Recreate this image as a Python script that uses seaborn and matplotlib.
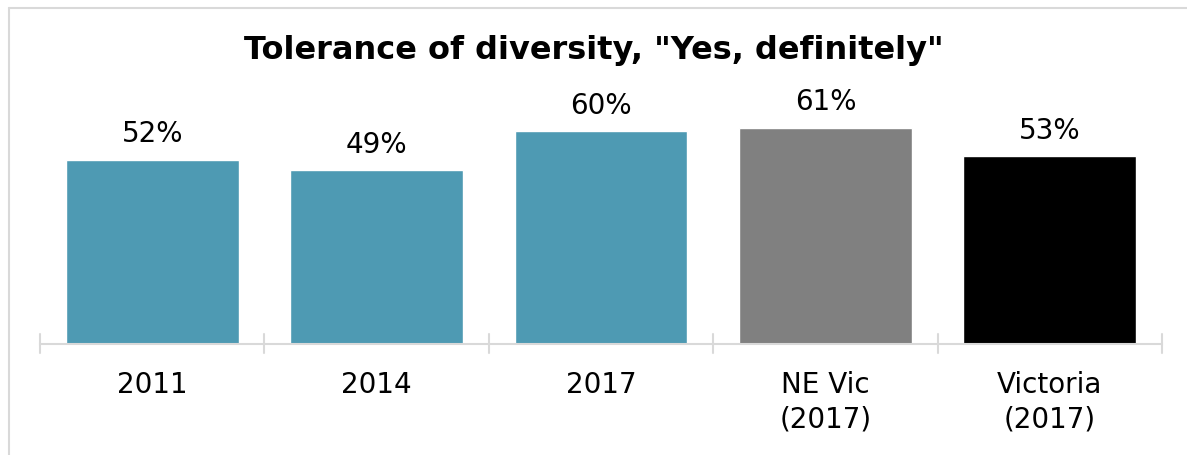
import matplotlib
matplotlib.use("Agg")
import matplotlib.pyplot as plt
import seaborn as sns
import pandas as pd
from matplotlib.lines import Line2D

categories = ["2011", "2014", "2017", "NE Vic\n(2017)", "Victoria\n(2017)"]
values = [52, 49, 60, 61, 53]
bar_colors = ["#4E9AB3", "#4E9AB3", "#4E9AB3", "#808080", "#000000"]

sns.set_theme(style="white")
plt.rcParams["font.family"] = ["DejaVu Sans"]

df = pd.DataFrame({"category": categories, "value": values})

fig = plt.figure(figsize=(11.87, 4.56), dpi=100)
ax = fig.add_axes([40 / 1187, (456 - 344.5) / 456, (1162 - 40) / 1187, (344.5 - 97) / 456])

sns.barplot(data=df, x="category", y="value", hue="category",
            palette=bar_colors, legend=False, width=0.77, saturation=1,
            ax=ax)

ax.set_ylim(0, 70)
ax.set_xlim(-0.5, len(categories) - 0.5)

for i, v in enumerate(values):
    ax.annotate(f"{v}%", xy=(i, v), xytext=(0, 9), textcoords="offset points",
                ha="center", va="bottom", fontsize=20, color="#000000")

# axis line with category boundary ticks
ax.set_yticks([])
for s in ["left", "right", "top"]:
    ax.spines[s].set_visible(False)
ax.spines["bottom"].set_color("#D9D9D9")
ax.spines["bottom"].set_linewidth(1.5)
ax.set_xticks(range(len(categories)))
ax.set_xticklabels(categories, fontsize=20, color="#000000", linespacing=1.3)
ax.tick_params(axis="x", length=0, pad=19)
for b in [i - 0.5 for i in range(len(categories) + 1)]:
    ax.add_line(Line2D([b, b], [-2.6, 2.6], color="#D9D9D9", lw=1.5,
                       clip_on=False))
ax.set_xlabel("")
ax.set_ylabel("")

fig.text(0.5, (456 - 51) / 456, 'Tolerance of diversity, "Yes, definitely"',
         ha="center", va="center", fontsize=23, fontweight="bold", color="#000000")

# chart area frame
fig.add_artist(Line2D([8.5 / 1187, 1], [1 - 8.5 / 456, 1 - 8.5 / 456],
                      transform=fig.transFigure, color="#D9D9D9", lw=1.5))
fig.add_artist(Line2D([8.5 / 1187, 8.5 / 1187], [0, 1 - 8.5 / 456],
                      transform=fig.transFigure, color="#D9D9D9", lw=1.5))

fig.savefig("out.png", dpi=100)
